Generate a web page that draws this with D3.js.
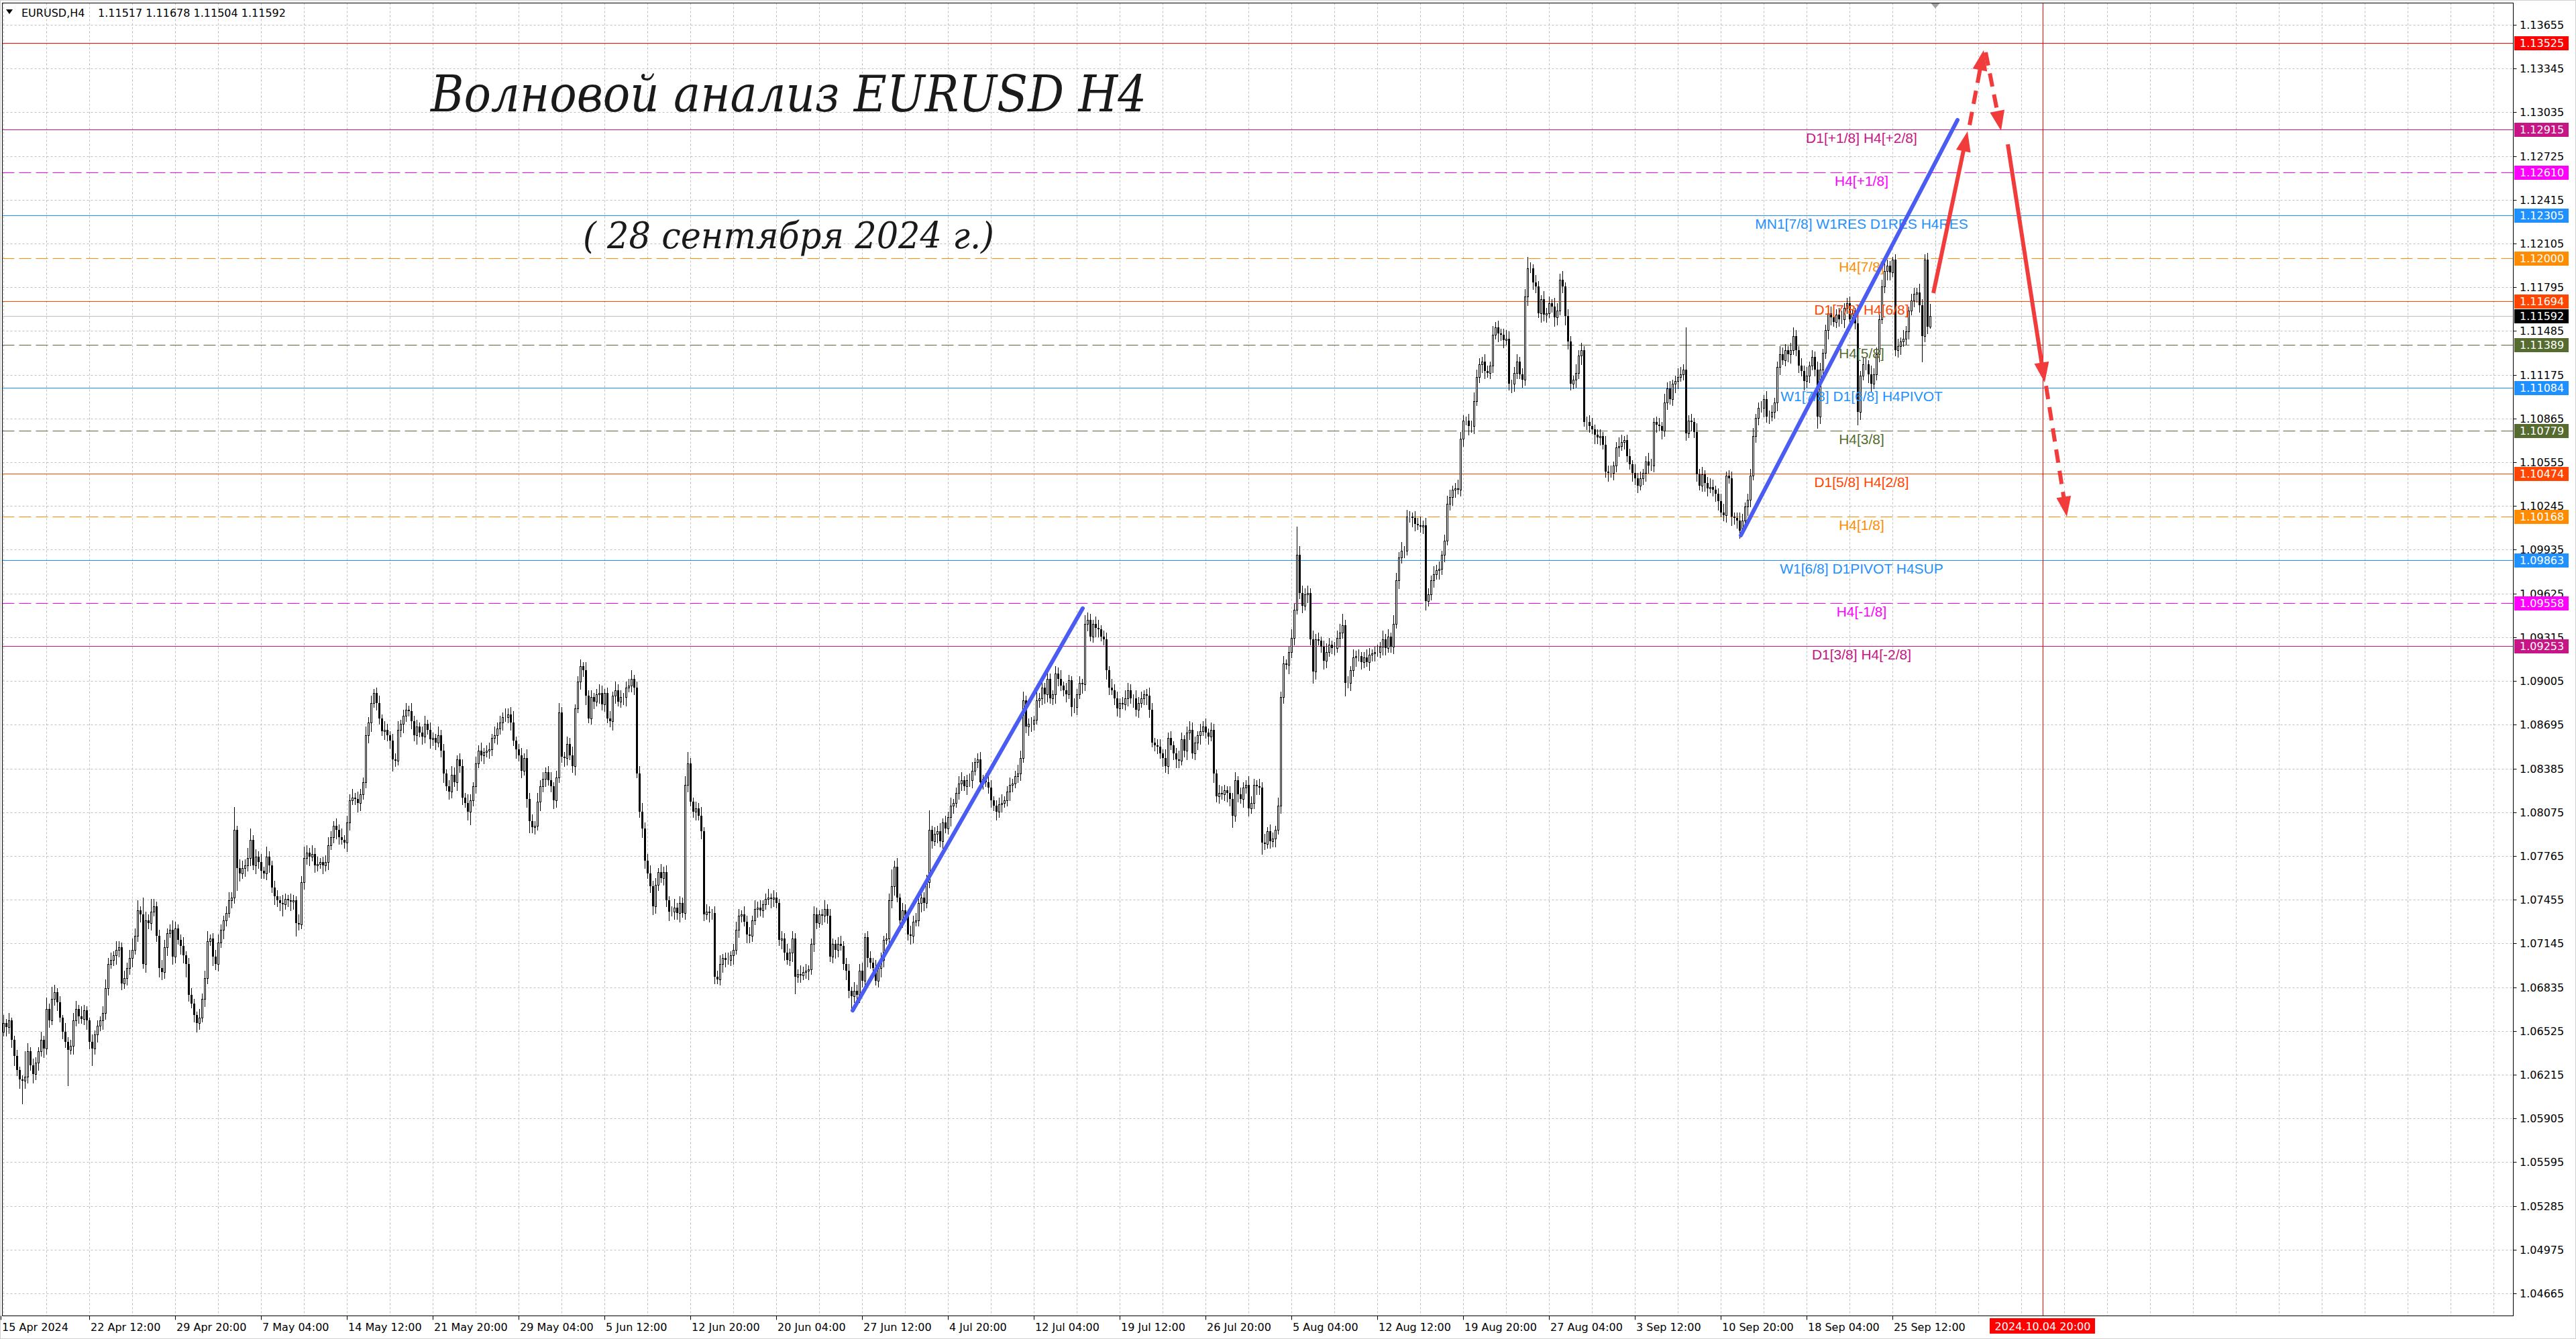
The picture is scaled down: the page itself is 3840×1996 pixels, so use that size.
<!DOCTYPE html>
<html>
<head>
<meta charset="utf-8">
<script src="https://cdn.jsdelivr.net/npm/d3@7"></script>
<style>
  html, body { margin: 0; padding: 0; background: #fff; }
  svg { display: block; }
</style>
</head>
<body>
<div id="chart"></div>
<script>
(function()
{
    // H4 closes, in pips above 1.0000 (bar 0 = 15 Apr 2024 00:00)
    var closes = [
        652,658,655,660,646,635,625,618,617,620,638,628,622,630,638,646,640,668,660,675,
        680,673,662,652,645,639,642,660,668,663,661,667,660,645,640,650,656,660,665,683,
        700,703,706,710,712,686,690,697,704,710,720,738,735,700,731,729,737,741,720,697,
        694,712,722,724,705,725,717,713,706,700,678,672,664,658,662,675,690,716,718,705,
        700,715,724,731,736,745,747,795,768,764,768,770,775,788,770,776,772,766,764,776,
        770,754,748,745,743,742,746,745,744,745,729,728,758,775,779,776,778,770,771,772,
        770,772,784,790,798,795,790,788,786,800,816,818,817,814,820,829,862,871,885,892,
        885,874,865,866,862,858,845,844,866,870,876,880,879,872,862,868,864,861,870,866,
        859,860,857,862,851,835,826,822,834,829,845,840,818,814,808,816,826,842,851,848,
        850,851,852,860,862,867,871,875,875,877,871,858,852,848,837,846,817,801,797,798,
        815,826,831,836,830,826,816,832,878,847,846,856,848,840,881,900,911,908,890,874,
        889,886,891,892,884,892,874,872,890,894,886,889,889,896,897,902,896,835,808,796,
        773,764,755,741,756,765,761,765,745,737,737,740,736,743,736,827,842,815,808,810,
        805,794,735,737,736,736,691,689,700,704,703,703,706,710,724,734,735,730,721,720,
        731,739,740,738,742,746,747,746,747,743,717,718,708,703,708,718,691,693,692,694,
        695,696,714,735,729,735,734,739,734,705,714,710,714,713,700,695,681,677,681,678,
        695,688,719,704,701,697,688,697,703,717,718,745,755,769,747,731,738,734,721,720,
        730,731,743,747,743,758,795,787,792,794,787,800,796,804,812,814,821,828,830,826,
        830,830,837,843,845,829,831,829,825,816,812,808,813,814,816,822,827,828,833,835,
        846,887,868,870,870,873,887,888,896,891,902,888,891,906,902,897,894,891,901,882,
        882,891,899,898,941,944,932,941,938,937,932,930,908,896,894,888,881,885,884,888,
        894,888,888,880,885,888,891,890,880,857,855,854,849,846,840,860,855,849,845,844,
        859,851,864,866,849,857,862,865,868,864,861,866,835,819,821,820,823,821,817,805,
        830,820,817,825,827,810,814,827,826,825,786,785,794,787,789,795,812,889,913,912,
        921,931,951,990,963,954,962,963,930,907,930,929,925,915,921,926,924,924,931,935,
        940,899,899,908,917,918,918,914,917,914,919,920,921,921,925,930,924,932,925,941,
        972,988,993,993,1017,1017,1016,1012,1011,1010,1011,957,962,972,976,979,980,990,1000,1026,
        1031,1036,1037,1036,1072,1085,1085,1081,1081,1099,1116,1125,1127,1120,1119,1124,1146,1151,1147,1146,
        1142,1143,1111,1111,1119,1127,1118,1114,1173,1193,1193,1183,1180,1161,1171,1160,1161,1168,1166,1158,
        1163,1185,1180,1159,1141,1111,1114,1119,1131,1135,1084,1084,1081,1079,1075,1073,1074,1068,1049,1048,
        1048,1053,1066,1067,1070,1071,1060,1054,1048,1044,1039,1044,1048,1056,1053,1053,1084,1082,1081,1078,
        1098,1108,1100,1111,1113,1116,1118,1121,1076,1085,1084,1077,1047,1039,1047,1041,1037,1038,1036,1033,
        1028,1020,1018,1046,1044,1017,1016,1014,1007,1014,1024,1029,1046,1074,1087,1094,1094,1100,1088,1088,
        1091,1098,1123,1132,1128,1135,1132,1135,1145,1135,1124,1120,1113,1117,1124,1130,1121,1088,1121,1133,
        1149,1161,1158,1155,1160,1157,1157,1165,1168,1157,1161,1154,1091,1117,1125,1125,1118,1111,1118,1132,
        1157,1180,1191,1195,1190,1199,1135,1138,1141,1143,1148,1163,1170,1175,1176,1167,1145,1199,1151.7,1159.2
    ];
    var firstOpen = 1.0650;

    // shadow lengths, pips above the body / below the body
    var upWick = [
        4,6,3,5,2,3,4,2,3,18,6,3,5,4,3,6,3,8,4,9,
        5,3,4,2,6,3,4,5,6,3,7,4,3,2,5,3,4,3,5,6,
        4,5,3,6,4,3,5,4,6,8,5,7,3,12,6,4,9,5,3,4,
        6,5,3,4,7,5,3,4,6,3,4,5,3,2,6,4,5,7,3,4,
        5,6,4,3,5,6,4,16,3,6,5,4,7,8,3,5,4,6,3,7,
        4,3,5,4,3,6,4,3,5,4,3,6,4,8,5,3,6,4,5,3,
        4,5,6,4,3,5,4,6,3,5,4,6,3,5,4,3,6,4,5,3,
        4,5,3,6,4,3,5,4,6,3,4,5,3,6,4,5,3,4,6,3,
        5,4,3,6,4,5,3,4,6,5,3,4,5,3,6,4,3,5,4,6,
        3,4,5,3,6,4,5,3,6,4,5,8,3,4,5,3,6,4,5,3,
        6,4,5,3,4,6,3,5,7,4,3,5,4,6,3,4,5,3,6,4,
        5,3,4,6,5,3,4,5,3,6,4,5,3,4,5,6,3,4,5,6,
        4,5,6,4,5,3,6,4,5,3,4,6,3,5,4,6,8,4,3,5,
        4,6,3,5,4,3,5,4,6,3,4,5,3,4,6,5,3,6,4,5,
        3,6,4,5,3,4,6,3,5,4,3,5,4,6,3,5,4,3,6,4,
        5,3,4,6,5,3,4,6,3,5,4,3,5,6,3,4,5,3,6,4,
        5,6,3,4,5,3,6,4,5,3,4,5,12,4,6,3,5,4,3,6,
        4,5,3,6,4,5,14,3,5,4,6,3,5,4,6,3,4,5,6,3,
        4,5,6,3,4,5,3,4,6,5,3,4,5,6,3,4,5,3,4,6,
        5,6,3,4,5,3,6,4,5,3,6,4,3,5,4,6,3,5,4,3,
        6,4,5,3,6,5,4,3,5,6,3,4,5,3,6,4,5,3,4,6,
        5,4,3,6,4,5,3,4,6,5,3,4,5,3,6,4,5,3,4,6,
        5,3,4,6,5,4,3,5,4,6,3,5,4,3,6,5,4,3,5,4,
        6,3,5,4,3,6,5,4,3,5,4,6,3,5,4,3,6,4,5,3,
        4,6,4,20,6,5,4,5,3,6,4,5,3,4,6,5,3,4,5,6,
        8,4,5,3,6,4,5,3,4,6,5,3,4,5,3,6,4,5,3,6,
        5,4,6,3,5,4,3,5,4,6,3,5,4,3,6,4,5,3,4,6,
        5,3,4,6,5,4,3,5,4,6,5,4,3,5,4,3,6,4,5,3,
        4,6,5,3,4,5,3,4,5,8,4,3,5,4,3,6,4,5,3,6,
        5,4,6,3,5,4,3,6,4,5,3,4,5,6,3,4,5,3,6,4,
        5,3,4,6,5,3,4,5,3,6,4,5,3,4,6,5,3,4,5,3,
        6,4,5,3,4,6,5,4,30,4,5,3,6,4,5,3,4,6,5,3,
        4,5,6,3,4,5,3,4,6,5,3,4,5,6,3,4,5,3,6,4,
        5,3,4,6,5,4,3,5,6,4,3,5,4,6,3,5,4,6,5,3,
        4,6,5,3,4,5,6,3,4,5,3,4,6,3,5,4,3,6,4,5,
        3,5,6,4,3,2,4,5,3,6,4,3,5,4,3,6,4,4,5,8.6
    ];
    var downWick = [
        5,3,6,4,5,7,4,6,16,5,4,3,6,4,5,3,6,4,5,3,
        4,6,3,5,4,25,3,6,4,5,3,4,6,5,12,4,5,3,6,4,
        5,3,4,6,5,4,3,5,4,6,3,4,5,3,6,4,5,3,4,6,
        5,4,6,3,5,4,3,6,5,9,4,3,5,6,4,3,5,4,3,6,
        4,5,3,6,4,3,5,4,16,5,3,6,4,5,3,6,4,5,3,4,
        5,3,6,4,5,8,3,4,6,5,9,4,3,5,4,6,3,5,4,3,
        6,4,5,3,4,6,5,3,4,6,5,3,4,6,5,3,4,5,6,3,
        5,4,3,6,4,5,8,4,3,5,6,4,3,5,4,6,3,5,4,3,
        6,4,5,3,4,6,3,5,4,3,6,4,5,3,6,9,4,5,3,4,
        6,3,5,4,3,6,4,5,3,4,5,3,6,4,5,3,6,8,4,5,
        3,6,4,5,3,4,6,5,3,4,6,5,3,4,6,3,5,4,6,3,
        4,5,3,6,4,5,3,4,6,5,3,4,5,6,3,4,5,3,4,6,
        5,3,4,6,5,4,3,5,4,6,3,5,4,6,3,4,5,3,4,6,
        3,5,4,3,6,4,5,3,4,6,5,3,4,6,3,5,4,3,6,5,
        4,3,6,4,5,3,4,6,5,3,4,6,5,3,4,6,12,4,5,3,
        4,6,3,5,4,3,6,4,5,3,4,6,5,3,4,6,5,10,4,3,
        5,4,3,6,4,5,3,4,6,5,3,4,5,6,3,4,5,3,4,6,
        5,3,4,6,5,3,4,5,3,6,4,5,3,4,6,5,3,4,5,3,
        6,4,5,3,4,6,5,3,4,5,3,6,4,5,3,4,6,5,3,4,
        5,3,4,6,5,4,3,5,4,6,5,3,4,6,5,3,4,5,3,6,
        4,5,3,6,4,5,3,4,6,5,3,4,6,5,3,4,5,6,3,4,
        5,3,6,4,5,3,4,6,5,3,4,5,3,6,4,5,3,4,6,5,
        3,4,6,5,3,4,5,6,3,4,5,3,6,4,5,3,4,6,5,8,
        4,5,3,6,4,5,3,4,6,5,8,4,3,5,4,6,3,5,4,3,
        6,4,5,3,4,5,3,6,4,8,5,3,4,6,5,3,4,5,3,6,
        4,9,3,5,4,6,3,5,4,3,6,4,5,3,4,6,5,3,4,5,
        3,6,4,5,3,4,6,5,3,4,5,6,3,4,5,3,6,4,5,3,
        4,6,5,3,4,5,3,6,4,5,3,4,6,5,3,4,5,3,6,4,
        5,3,4,6,5,4,3,5,4,6,3,5,4,3,6,4,5,3,4,6,
        5,3,4,6,5,4,3,5,4,6,3,5,4,3,6,4,5,3,4,6,
        3,5,4,6,3,5,4,3,6,4,5,3,4,6,5,3,4,5,3,6,
        4,5,3,4,6,5,3,4,5,3,6,4,5,3,4,6,5,3,4,5,
        6,3,4,5,3,6,4,5,5,3,4,6,5,3,4,5,3,6,4,5,
        3,4,6,5,3,4,5,6,3,4,5,3,6,4,5,3,4,8,5,3,
        4,6,5,3,4,5,3,6,4,5,3,4,9,5,3,4,6,5,3,4,
        5,3,4,6,5,3,4,5,6,3,4,5,3,4,6,5,18,4,5,1.3
    ];

    var priceTicks = [1.13655, 1.13345, 1.13035, 1.12725, 1.12415, 1.12105, 1.11795, 1.11485,
        1.11175, 1.10865, 1.10555, 1.10245, 1.09935, 1.09625, 1.09315, 1.09005, 1.08695,
        1.08385, 1.08075, 1.07765, 1.07455, 1.07145, 1.06835, 1.06525, 1.06215, 1.05905,
        1.05595, 1.05285, 1.04975, 1.04665];

    var timeLabels = ["15 Apr 2024", "22 Apr 12:00", "29 Apr 20:00", "7 May 04:00", "14 May 12:00",
        "21 May 20:00", "29 May 04:00", "5 Jun 12:00", "12 Jun 20:00", "20 Jun 04:00", "27 Jun 12:00",
        "4 Jul 20:00", "12 Jul 04:00", "19 Jul 12:00", "26 Jul 20:00", "5 Aug 04:00", "12 Aug 12:00",
        "19 Aug 20:00", "27 Aug 04:00", "3 Sep 12:00", "10 Sep 20:00", "18 Sep 04:00", "25 Sep 12:00"];

    // Murrey levels
    var levelPrices = [1.13525, 1.12915, 1.12610, 1.12305, 1.12000, 1.11694, 1.11389,
        1.11084, 1.10779, 1.10474, 1.10168, 1.09863, 1.09558, 1.09253];
    var levelNames = ["", "D1[+1/8] H4[+2/8]", "H4[+1/8]", "MN1[7/8] W1RES D1RES H4RES", "H4[7/8]",
        "D1[7/8] H4[6/8]", "H4[5/8]", "W1[7/8] D1[6/8] H4PIVOT", "H4[3/8]", "D1[5/8] H4[2/8]",
        "H4[1/8]", "W1[6/8] D1PIVOT H4SUP", "H4[-1/8]", "D1[3/8] H4[-2/8]"];
    var levelColors = ["#ff0000", "#c71585", "#ff00ff", "#1e90ff", "#ff8c00", "#ff4500", "#556b2f",
        "#1e90ff", "#556b2f", "#ff4500", "#ff8c00", "#1e90ff", "#ff00ff", "#c71585"];
    var levelDashed = [0, 0, 1, 0, 1, 0, 1, 0, 1, 0, 1, 0, 1, 0];

    var bidPrice = 1.11592;
    var futureBar = 761;
    var futureLabel = "2024.10.04 20:00";

    // drawn objects: [bar0, price0, bar1, price1]
    var trendLines = [[317.5, 1.0667, 403.25, 1.0952], [648.5, 1.10037, 729.25, 1.1298]];
    var arrowLines = [[720.25, 1.11754, 733, 1.12900], [733.75, 1.12945, 739, 1.13475],
        [739.75, 1.13460, 745.5, 1.12904], [748, 1.12808, 761.75, 1.11120], [762.25, 1.11096, 770, 1.10169]];
    var arrowDashed = [0, 1, 1, 0, 1];

    var width = 3840, height = 1996;
    var left = 3.5, right = 3746.5, top = 4.5, bottom = 1961.5;
    var axisFont = "'DejaVu Sans', Tahoma, sans-serif";
    var fmt = d3.format(".5f");

    var x = d3.scaleLinear().domain([0, 1]).range([1, 5]);
    var y = d3.scaleLinear().domain([1.13655, 1.04665]).range([37, 1928]);

    var svg = d3.select("#chart").append("svg")
        .attr("width", width).attr("height", height)
        .style("background", "#fff");

    svg.append("defs").append("clipPath").attr("id", "plot")
        .append("rect").attr("x", left).attr("y", top)
        .attr("width", right - left).attr("height", bottom - top);

    var plot = svg.append("g").attr("clip-path", "url(#plot)");

    // grid
    var vBars = d3.range(1, 940, 16);
    plot.selectAll(".vgrid").data(vBars).enter().append("line")
        .attr("x1", function(d){return Math.round(x(d)) + 0.5})
        .attr("x2", function(d){return Math.round(x(d)) + 0.5})
        .attr("y1", top).attr("y2", bottom)
        .attr("stroke", "#c0c0c0").attr("stroke-dasharray", "3,3");
    plot.selectAll(".hgrid").data(priceTicks).enter().append("line")
        .attr("x1", left).attr("x2", right)
        .attr("y1", function(d){return Math.round(y(d)) + 0.5})
        .attr("y2", function(d){return Math.round(y(d)) + 0.5})
        .attr("stroke", "#c0c0c0").attr("stroke-dasharray", "3,3");

    // levels
    plot.selectAll(".level").data(levelPrices).enter().append("line")
        .attr("x1", left).attr("x2", right)
        .attr("y1", function(d){return Math.round(y(d)) + 0.5})
        .attr("y2", function(d){return Math.round(y(d)) + 0.5})
        .attr("stroke", function(d, i){return levelColors[i]})
        .attr("stroke-dasharray", function(d, i){return levelDashed[i] ? "18,7" : null});
    plot.append("line")
        .attr("x1", left).attr("x2", right)
        .attr("y1", Math.round(y(bidPrice)) + 0.5).attr("y2", Math.round(y(bidPrice)) + 0.5)
        .attr("stroke", "#c0c0c0");
    plot.append("line")
        .attr("x1", x(futureBar) + 0.5).attr("x2", x(futureBar) + 0.5)
        .attr("y1", top).attr("y2", bottom)
        .attr("stroke", "#ff0000");

    // candles
    var candles = closes.map(function(c, i) {
        var close = 1 + c / 10000;
        var open = i === 0 ? firstOpen : 1 + closes[i - 1] / 10000;
        return {
            i: i, o: open, c: close,
            h: Math.max(open, close) + upWick[i] / 10000,
            l: Math.min(open, close) - downWick[i] / 10000
        };
    });

    var cg = plot.append("g").attr("shape-rendering", "crispEdges");
    cg.selectAll(".wick").data(candles).enter().append("line")
        .attr("x1", function(d){return x(d.i) + 0.5})
        .attr("x2", function(d){return x(d.i) + 0.5})
        .attr("y1", function(d){return Math.round(y(d.h))})
        .attr("y2", function(d){return Math.round(y(d.l)) + 1})
        .attr("stroke", "#000");
    cg.selectAll(".body").data(candles).enter().append("rect")
        .attr("x", function(d){return d.c >= d.o ? x(d.i) - 0.5 : x(d.i) - 1})
        .attr("width", function(d){return d.c >= d.o ? 2 : 3})
        .attr("y", function(d){return Math.round(y(Math.max(d.o, d.c))) + (d.c >= d.o ? 0.5 : 0)})
        .attr("height", function(d){
            var hgt = Math.round(y(Math.min(d.o, d.c))) - Math.round(y(Math.max(d.o, d.c)));
            return d.c >= d.o ? Math.max(hgt, 0) : Math.max(hgt, 1);
        })
        .attr("fill", function(d){return d.c >= d.o ? "#fff" : "#000"})
        .attr("stroke", function(d){return d.c >= d.o ? "#000" : "none"});

    // level captions
    plot.selectAll(".cap").data(levelPrices).enter().append("text")
        .filter(function(d, i){return levelNames[i] !== ""})
        .attr("x", 2775)
        .attr("y", function(d){return y(d) + 20})
        .attr("text-anchor", "middle")
        .attr("font-family", "'Liberation Sans', Arial, sans-serif")
        .attr("font-size", 21)
        .attr("fill", function(d){return levelColors[levelPrices.indexOf(d)]})
        .text(function(d){return levelNames[levelPrices.indexOf(d)]});

    // trend lines
    plot.selectAll(".trend").data(trendLines).enter().append("line")
        .attr("x1", function(d){return x(d[0])}).attr("y1", function(d){return y(d[1])})
        .attr("x2", function(d){return x(d[2])}).attr("y2", function(d){return y(d[3])})
        .attr("stroke", "#4a5cf2").attr("stroke-width", 6).attr("stroke-linecap", "round");

    // forecast arrows
    var headLen = 30, headHalf = 11;
    arrowLines.forEach(function(d, k) {
        var x1 = x(d[0]), y1 = y(d[1]), x2 = x(d[2]), y2 = y(d[3]);
        var a = Math.atan2(y2 - y1, x2 - x1);
        var ex = x2 - headLen * 0.8 * Math.cos(a), ey = y2 - headLen * 0.8 * Math.sin(a);
        plot.append("line")
            .attr("x1", x1).attr("y1", y1).attr("x2", ex).attr("y2", ey)
            .attr("stroke", "#f23c3c").attr("stroke-width", 6)
            .attr("stroke-dasharray", arrowDashed[k] ? "20,12" : null);
        var bx = x2 - headLen * Math.cos(a), by = y2 - headLen * Math.sin(a);
        var pts = [[x2, y2],
            [bx - headHalf * Math.sin(a), by + headHalf * Math.cos(a)],
            [bx + headHalf * Math.sin(a), by - headHalf * Math.cos(a)]];
        plot.append("polygon").attr("points", pts.map(function(p){return p.join(",")}).join(" "))
            .attr("fill", "#f23c3c");
    });

    // chart shift marker
    plot.append("path")
        .attr("d", "M" + (x(721) - 7) + "," + top + "L" + (x(721) + 7) + "," + top + "L" + x(721) + "," + (top + 8) + "Z")
        .attr("fill", "#a0a0a0");

    // titles
    svg.append("text").attr("x", 642).attr("y", 166)
        .attr("font-family", "'DejaVu Serif', serif").attr("font-style", "italic")
        .attr("font-size", 74).attr("fill", "#1a1a1a")
        .attr("textLength", 1067).attr("lengthAdjust", "spacingAndGlyphs")
        .text("Волновой анализ EURUSD H4");
    svg.append("text").attr("x", 869).attr("y", 370)
        .attr("font-family", "'DejaVu Serif', serif").attr("font-style", "italic")
        .attr("font-size", 54).attr("fill", "#1a1a1a")
        .attr("textLength", 613).attr("lengthAdjust", "spacingAndGlyphs")
        .text("( 28 сентября 2024 г.)");

    // header
    svg.append("path").attr("d", "M9,14L19,14L14,21Z").attr("fill", "#000");
    svg.append("text").attr("x", 32).attr("y", 25)
        .attr("font-family", axisFont).attr("font-size", 16).text("EURUSD,H4");
    svg.append("text").attr("x", 146).attr("y", 25)
        .attr("font-family", axisFont).attr("font-size", 16)
        .text("1.11517 1.11678 1.11504 1.11592");

    // frame
    svg.append("rect").attr("x", left).attr("y", top)
        .attr("width", right - left).attr("height", bottom - top)
        .attr("fill", "none").attr("stroke", "#000");
    svg.append("rect").attr("x", 0.5).attr("y", 0.5).attr("width", width - 1).attr("height", height - 1)
        .attr("fill", "none").attr("stroke", "#d0d0d0");

    // price axis
    var yAxis = svg.append("g").attr("font-family", axisFont).attr("font-size", 16);
    yAxis.selectAll(".tk").data(priceTicks).enter().append("line")
        .attr("x1", right).attr("x2", right + 5)
        .attr("y1", function(d){return Math.round(y(d)) + 0.5})
        .attr("y2", function(d){return Math.round(y(d)) + 0.5})
        .attr("stroke", "#000");
    yAxis.selectAll(".tl").data(priceTicks).enter().append("text")
        .attr("x", 3756).attr("y", function(d){return Math.round(y(d)) + 6})
        .text(function(d){return fmt(d)});

    var tags = levelPrices.map(function(p, i){return {p: p, col: levelColors[i]}});
    tags.push({p: bidPrice, col: "#000"});
    var tag = yAxis.selectAll(".tag").data(tags).enter().append("g");
    tag.append("rect")
        .attr("x", 3748).attr("width", 81)
        .attr("y", function(d){return Math.round(y(d.p)) - 10}).attr("height", 21)
        .attr("fill", function(d){return d.col});
    tag.append("text")
        .attr("x", 3756).attr("y", function(d){return Math.round(y(d.p)) + 6})
        .attr("fill", "#fff")
        .text(function(d){return fmt(d.p)});

    // time axis
    var xAxis = svg.append("g").attr("font-family", axisFont).attr("font-size", 16);
    var tickBar = function(k){return k === 0 ? 0 : 1 + 32 * k};
    xAxis.selectAll(".tk").data(timeLabels).enter().append("line")
        .attr("x1", function(d, k){return x(tickBar(k)) + 0.5})
        .attr("x2", function(d, k){return x(tickBar(k)) + 0.5})
        .attr("y1", bottom).attr("y2", bottom + 6)
        .attr("stroke", "#000");
    xAxis.selectAll(".tl").data(timeLabels).enter().append("text")
        .attr("x", function(d, k){return x(tickBar(k)) + 2})
        .attr("y", 1984)
        .text(function(d){return d});
    xAxis.append("rect")
        .attr("x", x(futureBar) - 79).attr("y", 1965).attr("width", 157).attr("height", 23)
        .attr("fill", "#ff0000");
    xAxis.append("text")
        .attr("x", x(futureBar)).attr("y", 1983).attr("text-anchor", "middle")
        .attr("fill", "#fff").text(futureLabel);

})();
</script>
</body>
</html>
